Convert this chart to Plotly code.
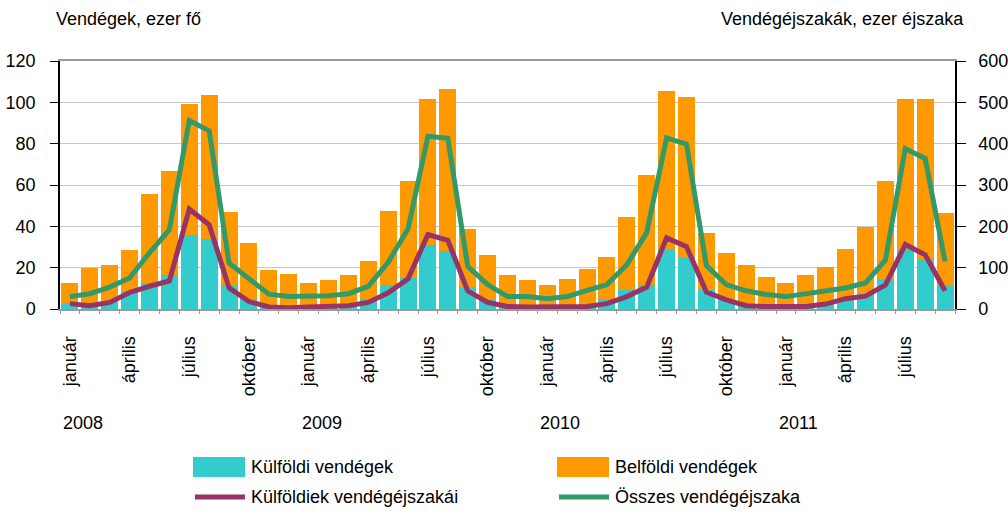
import plotly.graph_objects as go

# months Jan 2008 .. Sep 2011 (45 months)
tick_months = ["január", "április", "július", "október"]
years = ["2008", "2009", "2010", "2011"]

# guests, thousand persons (left axis)
kulfoldi_vendegek = [
    3.0, 2.5, 3.5, 8.5, 12.5, 16.3, 36.0, 33.9, 11.5, 5.0, 2.0, 1.5,
    1.5, 1.5, 2.0, 4.8, 11.4, 15.2, 30.8, 28.2, 10.7, 4.5, 1.5, 1.2,
    1.0, 1.0, 1.5, 4.7, 9.3, 11.5, 29.2, 25.2, 9.3, 5.0, 2.0, 1.5,
    1.5, 1.5, 2.5, 5.4, 7.4, 14.7, 28.7, 24.3, 11.4,
]
belfoldi_vendegek = [
    9.7, 17.1, 17.9, 19.9, 43.0, 50.7, 63.0, 69.8, 35.3, 27.1, 16.7, 15.2,
    11.2, 12.4, 14.6, 18.6, 36.2, 46.9, 71.0, 78.4, 28.2, 21.8, 15.1, 12.6,
    10.8, 13.7, 18.0, 20.6, 35.4, 53.5, 76.5, 77.5, 27.6, 22.2, 19.4, 14.1,
    11.2, 15.1, 18.0, 23.8, 32.4, 47.4, 73.1, 77.5, 35.2,
]
# guest nights, thousand nights (right axis)
kulfoldiek_ejszakai = [
    13, 8, 16, 40, 55, 68, 242, 204, 51, 18, 5, 3,
    5, 6, 8, 16, 39, 73, 180, 166, 44, 16, 6, 5,
    5, 5, 6, 13, 30, 53, 172, 151, 41, 22, 8, 6,
    6, 6, 12, 25, 31, 58, 156, 131, 44,
]
osszes_ejszaka = [
    30, 37, 53, 75, 136, 192, 456, 431, 111, 72, 36, 30,
    30, 32, 37, 55, 113, 194, 418, 413, 103, 59, 30, 30,
    25, 30, 45, 59, 107, 185, 414, 399, 105, 59, 44, 35,
    30, 37, 47, 51, 63, 118, 388, 364, 115,
]

COLORS = {"kulf": "#33CCCC", "belf": "#FF9900", "kulf_ej": "#993366", "ossz": "#339966"}
n = len(kulfoldi_vendegek)
x = list(range(n))
FONT = "Liberation Sans, Arial"

fig = go.Figure()
fig.add_trace(go.Bar(x=x, y=kulfoldi_vendegek, name="Külföldi vendégek",
                     marker=dict(color=COLORS["kulf"], line=dict(width=0))))
fig.add_trace(go.Bar(x=x, y=belfoldi_vendegek, name="Belföldi vendégek",
                     marker=dict(color=COLORS["belf"], line=dict(width=0))))
fig.add_trace(go.Scatter(x=x, y=kulfoldiek_ejszakai, name="Külföldiek vendégéjszakái",
                         mode="lines", yaxis="y2",
                         line=dict(color=COLORS["kulf_ej"], width=5)))
fig.add_trace(go.Scatter(x=x, y=osszes_ejszaka, name="Összes vendégéjszaka",
                         mode="lines", yaxis="y2",
                         line=dict(color=COLORS["ossz"], width=5)))

# plot area in pixels: x 60..955, y 61..309
def px_x(p):
    return (p - 60) / 895

def px_y(p):
    return (309 - p) / 248

annotations = [
    dict(text="Vendégek, ezer fő", xref="paper", yref="paper", x=px_x(54), y=px_y(19),
         xanchor="left", yanchor="middle", showarrow=False),
    dict(text="Vendégéjszakák, ezer éjszaka", xref="paper", yref="paper", x=px_x(966), y=px_y(19),
         xanchor="right", yanchor="middle", showarrow=False),
]
for k, yr in enumerate(years):
    annotations.append(dict(text=yr, xref="x", yref="paper", x=12 * k + 0.65, y=px_y(423),
                            xanchor="center", yanchor="middle", showarrow=False))

# legend drawn by hand: two columns, two rows
shapes = []
legend_items = [
    ("Külföldi vendégek", "kulf", "box", 193, 467),
    ("Belföldi vendégek", "belf", "box", 557, 467),
    ("Külföldiek vendégéjszakái", "kulf_ej", "line", 193, 497),
    ("Összes vendégéjszaka", "ossz", "line", 557, 497),
]
for label, key, kind, lx, ly in legend_items:
    if kind == "box":
        shapes.append(dict(type="rect", xref="paper", yref="paper",
                           x0=px_x(lx), x1=px_x(lx + 52), y0=px_y(ly - 10), y1=px_y(ly + 10),
                           fillcolor=COLORS[key], line=dict(width=0)))
    else:
        shapes.append(dict(type="line", xref="paper", yref="paper",
                           x0=px_x(lx + 2), x1=px_x(lx + 52), y0=px_y(ly), y1=px_y(ly),
                           line=dict(color=COLORS[key], width=5)))
    annotations.append(dict(text=label, xref="paper", yref="paper", x=px_x(lx + 56), y=px_y(ly),
                            xanchor="left", yanchor="middle", showarrow=False))

fig.update_layout(
    width=1008, height=514,
    margin=dict(l=60, r=53, t=61, b=205),
    barmode="stack", bargap=0.15,
    plot_bgcolor="white", paper_bgcolor="white",
    font=dict(family=FONT, size=18, color="black"),
    showlegend=False,
    xaxis=dict(
        range=[-0.5, n - 0.5], automargin=False,
        tickmode="array",
        tickvals=list(range(0, n, 3)),
        ticktext=[tick_months[(i // 3) % 4] for i in range(0, n, 3)],
        tickangle=-90, ticks="", ticklabelstandoff=18,
        showgrid=False, zeroline=False,
        showline=True, linecolor="#9a9a9a", linewidth=2, mirror=True,
        minor=dict(tickmode="array", tickvals=[i - 0.5 for i in range(n + 1)],
                   ticks="outside", ticklen=3, tickcolor="#9a9a9a", showgrid=False),
    ),
    yaxis=dict(
        range=[0, 120], dtick=20, showgrid=True, gridcolor="#c8c8c8", gridwidth=1,
        automargin=False,
        zeroline=False, showline=True, linecolor="black", linewidth=1.5,
        ticks="outside", ticklen=8, tickcolor="black", ticklabelstandoff=11,
    ),
    yaxis2=dict(
        range=[0, 600], dtick=100, overlaying="y", side="right", showgrid=False,
        automargin=False,
        zeroline=False, showline=True, linecolor="black", linewidth=1.5,
        ticks="outside", ticklen=9, tickcolor="black", ticklabelstandoff=9,
    ),
    shapes=shapes,
    annotations=annotations,
)

fig.write_html("out.html", config={"displayModeBar": False},
               post_script="document.body.style.margin='0';")
